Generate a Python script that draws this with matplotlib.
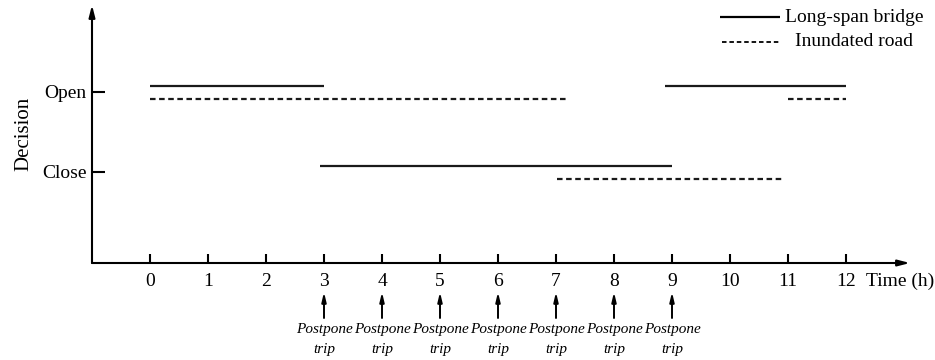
import matplotlib
matplotlib.use("Agg")
import matplotlib.pyplot as plt

plt.rcParams["font.family"] = ["Liberation Serif", "DejaVu Serif"]

# decision levels
OPEN, CLOSE = 2, 1
level_labels = ["Close", "Open"]
hours = list(range(0, 13))

# (start, end, level) segments per road type
bridge_segments = [(0, 3, OPEN), (2.93, 9.0, CLOSE), (8.88, 12, OPEN)]
road_segments = [(0, 7.19, OPEN), (7.02, 10.91, CLOSE), (11.0, 12, OPEN)]
postpone_hours = [3, 4, 5, 6, 7, 8, 9]

BRIDGE_OFFSET = 0.075
ROAD_OFFSET = -0.09
DASH = (0, (2.5, 1.6))

fig = plt.figure(figsize=(9.35, 3.6), dpi=100)
W, H = 935, 360
x0, x1, y0, y1 = 92, 910, 263, 5
ax = fig.add_axes([x0 / W, 1 - y0 / H, (x1 - x0) / W, (y0 - y1) / H])
ax.set_xlim((x0 - 150) / 58, (x1 - 150) / 58)
ax.set_ylim(CLOSE - (y0 - 172) / 80, OPEN + (92 - y1) / 80)

for s, e, lvl in bridge_segments:
    ax.plot([s, e], [lvl + BRIDGE_OFFSET] * 2, color="#1a1a1a", lw=1.6,
            solid_capstyle="butt")
for s, e, lvl in road_segments:
    ax.plot([s, e], [lvl + ROAD_OFFSET] * 2, color="#1a1a1a", lw=1.6,
            linestyle=DASH)

# axes drawn as arrows
for sp in ax.spines.values():
    sp.set_visible(False)
arrow = dict(arrowstyle="-|>,head_length=0.7,head_width=0.18", color="black",
             lw=1.5, shrinkA=0, shrinkB=0)
ax.annotate("", xy=(0, 1), xytext=(0, 0), xycoords="axes fraction",
            arrowprops=arrow)
ax.annotate("", xy=(1, 0), xytext=(0, 0), xycoords="axes fraction",
            arrowprops=arrow)

ax.set_xticks(hours)
ax.set_xticklabels([str(h) for h in hours], fontsize=14)
ax.set_yticks([CLOSE, OPEN])
ax.set_yticklabels(level_labels, fontsize=14)
ax.tick_params(axis="x", direction="in", length=6.5, width=1.5, pad=7)
ax.tick_params(axis="y", direction="in", length=9, width=1.5, pad=4)
ax.set_ylabel("Decision", fontsize=15, labelpad=6)


def fx(px):
    return px / W


def fy(py):
    return 1 - py / H


fig.text(fx(866), fy(281), "Time (h)", ha="left", va="center", fontsize=14)

# postpone-trip markers below the time axis
for h in postpone_hours:
    ax.annotate("", xy=(h, fy(292)), xytext=(h, fy(318)),
                xycoords=("data", "figure fraction"),
                arrowprops=dict(arrowstyle="-|>,head_length=0.55,head_width=0.13",
                                color="black", lw=1.4, shrinkA=0, shrinkB=0),
                annotation_clip=False)
    px = ax.transData.transform((h, 0))[0]
    fig.text(px / W, fy(330), "Postpone", ha="center", va="center",
             fontsize=11, style="italic")
    fig.text(px / W, fy(349), "trip", ha="center", va="center",
             fontsize=11, style="italic")

# legend drawn by hand in figure pixels
fig.add_artist(plt.Line2D([fx(720), fx(780)], [fy(17)] * 2, color="black",
                          lw=1.6, solid_capstyle="butt"))
fig.text(fx(785), fy(17), "Long-span bridge", fontsize=14, va="center")
fig.add_artist(plt.Line2D([fx(722), fx(780)], [fy(42)] * 2, color="black",
                          lw=1.3, linestyle=(0, (2.5, 1.6))))
fig.text(fx(795), fy(42), "Inundated road", fontsize=14, va="center")

fig.savefig("out.png", dpi=100)
